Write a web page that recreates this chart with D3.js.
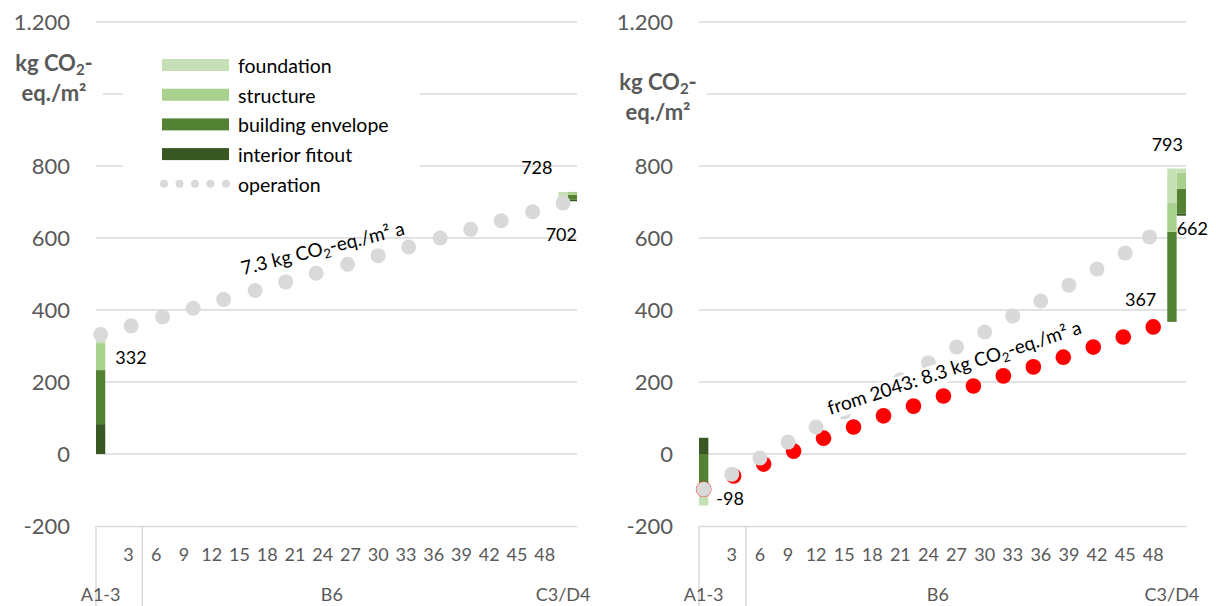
<!DOCTYPE html>
<html>
<head>
<meta charset="utf-8">
<script src="https://cdn.jsdelivr.net/npm/d3@7"></script>
<style>
  body { margin: 0; background: #fff; }
  svg { font-family: Lato, "Open Sans", sans-serif; }
</style>
</head>
<body>
<svg id="chart" width="1216" height="606"></svg>
<script>
// categories of the x axis: module A1-3, years 1..50 of B6, then C3/D4
const categories = ["A1-3",
  "1","2","3","4","5","6","7","8","9","10","11","12","13","14","15","16","17","18","19","20",
  "21","22","23","24","25","26","27","28","29","30","31","32","33","34","35","36","37","38","39","40",
  "41","42","43","44","45","46","47","48","49","50","C3/D4"];
const xTickLabels = ["3","6","9","12","15","18","21","24","27","30","33","36","39","42","45","48"];
const groupLabels = ["A1-3", "B6", "C3/D4"];
const groupLabelCats = ["A1-3", "25", "50"];
const yTickValues = [-200, 0, 200, 400, 600, 800, 1000, 1200];
// 1.000 is hidden behind the axis title in the original
const yTickLabels = [-200, 0, 200, 400, 600, 800, 1200];

const components = ["interior fitout", "building envelope", "structure", "foundation"];
const componentColors = ["#385723", "#548235", "#a9d18e", "#c5e0b4"];
const legendOrder = ["foundation", "structure", "building envelope", "interior fitout"];

// left chart
const leftBarCats = ["A1-3", "50", "C3/D4"];
const leftBarBase = [0, 702, 702];
const leftInterior = [83, 0, 4];
const leftEnvelope = [150, 6, 14];
const leftStructure = [75, 6, 8];
const leftFoundation = [24, 14, 0];
const leftOpYears = [0, 3.3, 6.7, 10, 13.3, 16.7, 20, 23.3, 26.7, 30, 33.3, 36.7, 40, 43.3, 46.7, 50];
const leftOpValues = [332, 356, 381, 405, 429, 454, 478, 502, 527, 551, 575, 600, 624, 648, 673, 697];

// right chart
const rightBarCats = ["A1-3", "50", "C3/D4"];
const rightBarBase = [0, 367, 662];
const rightInterior = [45, 0, 5];
const rightEnvelope = [-82, 250, 69];
const rightStructure = [-28, 80, 45];
const rightFoundation = [-33, 96, 12];
const rightOpYears = [0, 3, 6, 9, 12, 15, 18, 21, 24, 27, 30, 33, 36, 39, 42, 45, 47.6];
const rightOpValues = [-98, -56, -11, 33, 75, 117, 164, 206, 253, 297, 339, 383, 425, 469, 514, 558, 603];
const rightDecarbYears = [0, 3.2, 6.4, 9.6, 12.8, 16, 19.2, 22.4, 25.6, 28.8, 32, 35.2, 38.4, 41.6, 44.8, 48];
const rightDecarbValues = [-98, -61, -28, 8, 44, 75, 106, 133, 161, 189, 217, 242, 269, 297, 325, 353];

const svg = d3.select("#chart");
const grid = "#d9d9d9";
const axisText = "#595959";

const fmt = d3.formatLocale({ decimal: ",", thousands: ".", grouping: [3], currency: ["", "€"], minus: "-" }).format(",d");

const y = d3.scaleLinear().domain([-200, 1200]).range([526, 22]);

function addCO2(text, before, after, subSize) {
  text.append("tspan").text(before);
  text.append("tspan").attr("font-size", subSize).attr("dy", 4).text("2");
  text.append("tspan").attr("dy", -4).text(after);
}

function drawPanel(cfg) {
  const g = svg.append("g");
  const x = d3.scaleBand().domain(categories).range(cfg.xRange).padding(0);
  const bw = x.bandwidth();
  const xYear = d3.scaleLinear().domain([0, 50]).range([x("A1-3") + bw / 2, x("50") + bw / 2]);

  // gridlines
  g.append("g").selectAll("line")
    .data(yTickValues.filter(v => v > -200))
    .join("line")
    .attr("x1", cfg.xRange[0]).attr("x2", cfg.xRange[1])
    .attr("y1", d => y(d)).attr("y2", d => y(d))
    .attr("stroke", grid).attr("stroke-width", 1.5);

  // y axis labels
  const ya = g.append("g")
    .attr("transform", `translate(${cfg.xRange[0]},0)`)
    .call(d3.axisLeft(y).tickValues(yTickLabels).tickSize(0).tickPadding(26).tickFormat(fmt));
  ya.select(".domain").remove();
  ya.attr("font-family", null).attr("font-size", 22);
  ya.selectAll("text").attr("fill", axisText);

  // x axis
  const xa = g.append("g")
    .attr("transform", `translate(0,${y(-200)})`)
    .call(d3.axisBottom(x).tickValues(xTickLabels).tickSize(0).tickSizeOuter(0).tickPadding(22));
  xa.attr("font-family", null).attr("font-size", 18);
  xa.select(".domain").attr("stroke", grid).attr("stroke-width", 1.5);
  xa.selectAll("text").attr("fill", axisText);

  g.selectAll("line.sep")
    .data([categories[0], categories[5]])
    .join("line")
    .attr("class", "sep")
    .attr("x1", d => x(d)).attr("x2", d => x(d))
    .attr("y1", y(-200)).attr("y2", 606)
    .attr("stroke", grid).attr("stroke-width", 1.5);

  g.selectAll("text.group")
    .data(groupLabels)
    .join("text")
    .attr("class", "group")
    .attr("x", (d, i) => x(groupLabelCats[i]) + bw / 2)
    .attr("y", 595)
    .attr("dy", "0.35em")
    .attr("text-anchor", "middle")
    .attr("font-size", 18)
    .attr("fill", axisText)
    .text(d => d);

  // axis title
  g.append("rect")
    .attr("x", cfg.titleBox[0]).attr("y", cfg.titleBox[1])
    .attr("width", cfg.titleBox[2]).attr("height", cfg.titleBox[3])
    .attr("fill", "#fff");
  const t1 = g.append("text")
    .attr("x", cfg.titleX).attr("y", cfg.titleY)
    .attr("text-anchor", "middle").attr("font-size", 22).attr("font-weight", "bold")
    .attr("fill", axisText);
  addCO2(t1, "kg CO", "-", 15);
  g.append("text")
    .attr("x", cfg.titleX).attr("y", cfg.titleY + 30)
    .attr("text-anchor", "middle").attr("font-size", 22).attr("font-weight", "bold")
    .attr("fill", axisText)
    .text("eq./m²");

  // stacked bars
  const rows = cfg.barCats.map((c, i) => ({
    cat: c,
    base: cfg.base[i],
    "interior fitout": cfg.interior[i],
    "building envelope": cfg.envelope[i],
    "structure": cfg.structure[i],
    "foundation": cfg.foundation[i]
  }));
  const series = d3.stack().keys(components).offset(d3.stackOffsetDiverging)(rows);
  g.append("g").selectAll("g")
    .data(series)
    .join("g")
    .attr("fill", (d, i) => componentColors[i])
    .selectAll("rect")
    .data(d => d)
    .join("rect")
    .attr("x", d => x(d.data.cat))
    .attr("width", bw)
    .attr("y", d => y(Math.max(d[0], d[1]) + d.data.base))
    .attr("height", d => Math.abs(y(d[0] + d.data.base) - y(d[1] + d.data.base)));

  // decarbonised operation (red)
  if (cfg.redYears) {
    g.append("g").selectAll("circle")
      .data(cfg.redYears)
      .join("circle")
      .attr("cx", d => xYear(d))
      .attr("cy", (d, i) => y(cfg.redValues[i]))
      .attr("r", 7.8)
      .attr("fill", "#ff0000");
  }

  // operation (grey)
  g.append("g").selectAll("circle")
    .data(cfg.opYears)
    .join("circle")
    .attr("cx", d => xYear(d))
    .attr("cy", (d, i) => y(cfg.opValues[i]))
    .attr("r", 7.5)
    .attr("fill", grid);

  // data labels
  g.append("g").selectAll("text")
    .data(cfg.labels(x, bw))
    .join("text")
    .attr("x", d => d.x)
    .attr("y", d => d.y)
    .attr("dy", "0.35em")
    .attr("text-anchor", d => d.anchor)
    .attr("font-size", 18)
    .attr("fill", "#000")
    .text(d => d.text);

  // rate annotation
  const ng = g.append("g")
    .attr("transform", `translate(${xYear(cfg.note.year)},${y(cfg.note.value)}) rotate(${cfg.note.angle})`);
  const nt = ng.append("text").attr("font-size", 19).attr("fill", "#000");
  addCO2(nt, cfg.note.before, "-eq./m² a", 13);
  if (cfg.note.box) {
    const bb = nt.node().getBBox();
    ng.insert("rect", "text")
      .attr("x", bb.x).attr("y", bb.y + 3)
      .attr("width", bb.width).attr("height", bb.height - 5)
      .attr("fill", "#fff");
  }

  return g;
}

const left = drawPanel({
  xRange: [96, 577],
  titleX: 54, titleY: 71, titleBox: [8, 46, 95, 62],
  barCats: leftBarCats, base: leftBarBase, interior: leftInterior,
  envelope: leftEnvelope, structure: leftStructure, foundation: leftFoundation,
  opYears: leftOpYears, opValues: leftOpValues,
  labels: (x, bw) => [
    { text: "332", x: x("A1-3") + bw + 10, y: y(332) + 23, anchor: "start" },
    { text: "728", x: x("50") - 6, y: y(728) - 24, anchor: "end" },
    { text: "702", x: x("C3/D4") + bw, y: y(702) + 33, anchor: "end" }
  ],
  note: { year: 15.4, value: 497, angle: -14, before: "7.3 kg CO", box: false }
});

// legend (left chart)
const legend = left.append("g");
legend.append("rect")
  .attr("x", 123).attr("y", 48).attr("width", 297).attr("height", 152)
  .attr("fill", "#fff");
const rowsL = legend.selectAll("g.item")
  .data(legendOrder)
  .join("g")
  .attr("class", "item")
  .attr("transform", (d, i) => `translate(162,${65 + i * 29.7})`);
rowsL.append("rect")
  .attr("x", 0).attr("y", -6).attr("width", 67).attr("height", 12)
  .attr("fill", d => componentColors[components.indexOf(d)]);
rowsL.append("text")
  .attr("x", 76).attr("y", 1).attr("dy", "0.35em").attr("font-size", 19.5).attr("fill", "#000")
  .text(d => d);
const opRow = legend.append("g").attr("transform", `translate(162,${65 + 4 * 29.7})`);
opRow.selectAll("circle")
  .data([0, 1, 2, 3, 4])
  .join("circle")
  .attr("cx", d => 2 + d * 15.5)
  .attr("r", 4)
  .attr("fill", grid);
opRow.append("text")
  .attr("x", 76).attr("y", 1).attr("dy", "0.35em").attr("font-size", 19.5).attr("fill", "#000")
  .text("operation");

drawPanel({
  xRange: [699, 1186],
  titleX: 658, titleY: 90, titleBox: [610, 64, 97, 64],
  barCats: rightBarCats, base: rightBarBase, interior: rightInterior,
  envelope: rightEnvelope, structure: rightStructure, foundation: rightFoundation,
  opYears: rightOpYears, opValues: rightOpValues,
  redYears: rightDecarbYears, redValues: rightDecarbValues,
  labels: (x, bw) => [
    { text: "-98", x: x("A1-3") + bw + 8, y: y(-98) + 9, anchor: "start" },
    { text: "367", x: x("50") - 11, y: y(367) - 22, anchor: "end" },
    { text: "793", x: x("C3/D4") + bw - 3, y: y(793) - 24, anchor: "end" },
    { text: "662", x: x("C3/D4"), y: y(662) + 13, anchor: "start" }
  ],
  note: { year: 13.5, value: 108, angle: -18, before: "from 2043: 8.3 kg CO", box: true }
});
</script>
</body>
</html>
